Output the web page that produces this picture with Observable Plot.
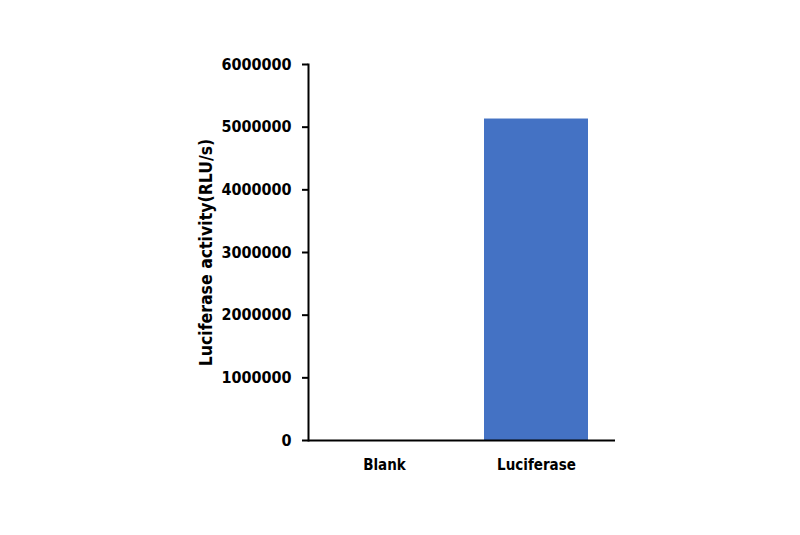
<!DOCTYPE html>
<html>
<head>
<meta charset="utf-8">
<script src="https://cdn.jsdelivr.net/npm/d3@7"></script>
<script src="https://cdn.jsdelivr.net/npm/@observablehq/plot@0.6"></script>
<style>
  html, body { margin: 0; padding: 0; background: #fff; }
</style>
</head>
<body>
<div id="chart"></div>
<script>
const categories = ["Blank", "Luciferase"];
const values = [0, 5130000];
const yTicks = [0, 1000000, 2000000, 3000000, 4000000, 5000000, 6000000];
const yLabel = "Luciferase activity(RLU/s)";

const data = categories.map((c, i) => ({category: c, value: values[i]}));

const chart = Plot.plot({
  width: 800,
  height: 535,
  marginTop: 64,
  marginBottom: 95,
  marginLeft: 308,
  marginRight: 185,
  style: {fontFamily: "'DejaVu Sans Condensed', 'DejaVu Sans', sans-serif", fontWeight: "bold", color: "#000", background: "#fff"},
  x: {domain: categories, range: [308, 612], paddingInner: 0.316, paddingOuter: 0.158, label: null},
  y: {domain: [0, 6000000], label: null},
  marks: [
    Plot.barY(data, {x: "category", y: "value", fill: "#4472C4"}),
    Plot.frame({anchor: "left", stroke: "#000", strokeWidth: 2}),
    Plot.ruleY([0], {stroke: "#000", strokeWidth: 2}),
    Plot.axisY({ticks: yTicks, tickFormat: d => String(d), tickSize: 6, tickPadding: 11, strokeWidth: 2,
      fontSize: 16, label: null}),
    Plot.axisY({ticks: [], tickSize: 0, fontSize: 17.5,
      label: yLabel, labelAnchor: "center", labelArrow: "none", labelOffset: 109}),
    Plot.axisX({tickSize: 0, tickPadding: 19, fontSize: 15})
  ]
});
document.getElementById("chart").appendChild(chart);
</script>
</body>
</html>
